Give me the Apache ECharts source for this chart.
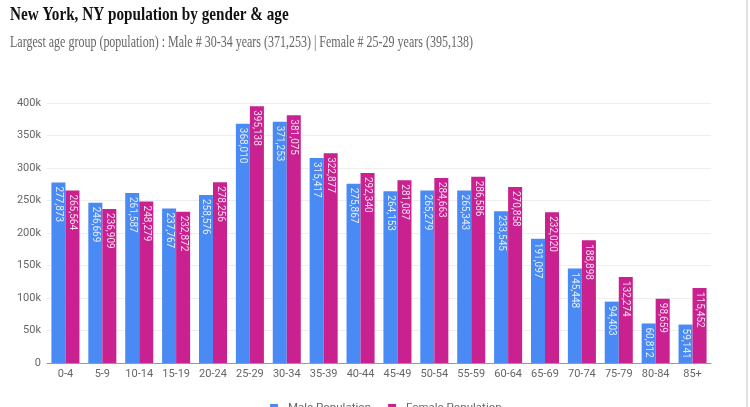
<!DOCTYPE html>
<html>
<head>
<meta charset="utf-8">
<script src="https://cdn.jsdelivr.net/npm/echarts@6/dist/echarts.min.js"></script>
<style>
html,body{margin:0;padding:0;background:#fff;}
#c{width:750px;height:407px;}
</style>
</head>
<body>
<div id="c"></div>
<script>
const categories = ['0-4','5-9','10-14','15-19','20-24','25-29','30-34','35-39','40-44','45-49','50-54','55-59','60-64','65-69','70-74','75-79','80-84','85+'];
const malePopulation = [277873,246669,261587,237767,258576,368010,371253,315417,275867,264153,265279,265343,233545,191097,145448,94403,60812,59141];
const femalePopulation = [265564,236909,248279,232872,278256,395138,381075,322877,292340,281087,284663,286586,270858,232020,188898,132274,98659,115452];
const yTicks = [0,50000,100000,150000,200000,250000,300000,350000,400000];
const titleText = 'New York, NY population by gender & age';
const subtitleText = 'Largest age group (population) : Male # 30-34 years (371,253) | Female # 25-29 years (395,138)';

const chart = echarts.init(document.getElementById('c'));
const fmt = v => v.toLocaleString('en-US');
const labelCfg = {
  show: true,
  position: 'insideTop',
  rotate: -90,
  align: 'left',
  verticalAlign: 'middle',
  distance: 4,
  color: 'rgba(255,255,255,0.85)',
  fontFamily: 'Roboto',
  fontSize: 10,
  formatter: p => fmt(p.value)
};
chart.setOption({
  animation: false,
  legend: {
    bottom: -12,
    left: 265,
    itemWidth: 8, itemHeight: 8,
    icon: 'rect',
    itemGap: 17,
    textStyle: {fontFamily: 'Roboto', fontSize: 11.5, color: '#666', padding: [0,0,0,5]}
  },
  grid: {left: 47, right: 39, top: 103, bottom: 44},
  xAxis: {
    type: 'category',
    data: categories,
    axisTick: {show: false},
    axisLine: {lineStyle: {color: '#999'}},
    axisLabel: {fontFamily: 'Roboto', fontSize: 11, color: '#666', margin: 6, interval: 0}
  },
  yAxis: {
    type: 'value',
    min: yTicks[0], max: yTicks[yTicks.length-1], interval: 50000,
    axisLabel: {fontFamily: 'Roboto', fontSize: 11, color: '#666', margin: 6,
      formatter: v => v === 0 ? '0' : (v/1000) + 'k'},
    splitLine: {lineStyle: {color: '#eeeeee'}}
  },
  series: [
    {name: 'Male Population', type: 'bar', data: malePopulation, barGap: '0%', barCategoryGap: '24%',
     itemStyle: {color: '#4a8af4'}, label: labelCfg},
    {name: 'Female Population', type: 'bar', data: femalePopulation, barGap: '0%', barCategoryGap: '24%',
     itemStyle: {color: '#c9218f'}, label: labelCfg}
  ],
  graphic: [
    {type: 'text', x: 10, y: 6, scaleX: 0.8, silent: true,
     style: {text: titleText, fill: '#111', font: 'bold 19px "Liberation Serif"', textVerticalAlign: 'top'}},
    {type: 'text', x: 10, y: 34, scaleX: 0.727, silent: true,
     style: {text: subtitleText, fill: '#666', font: '16.5px "Liberation Serif"', textVerticalAlign: 'top'}},
    {type: 'rect', shape: {x: 746, y: 0, width: 2, height: 407}, style: {fill: '#e0e0e0'}, silent: true}
  ]
});
</script>
</body>
</html>
